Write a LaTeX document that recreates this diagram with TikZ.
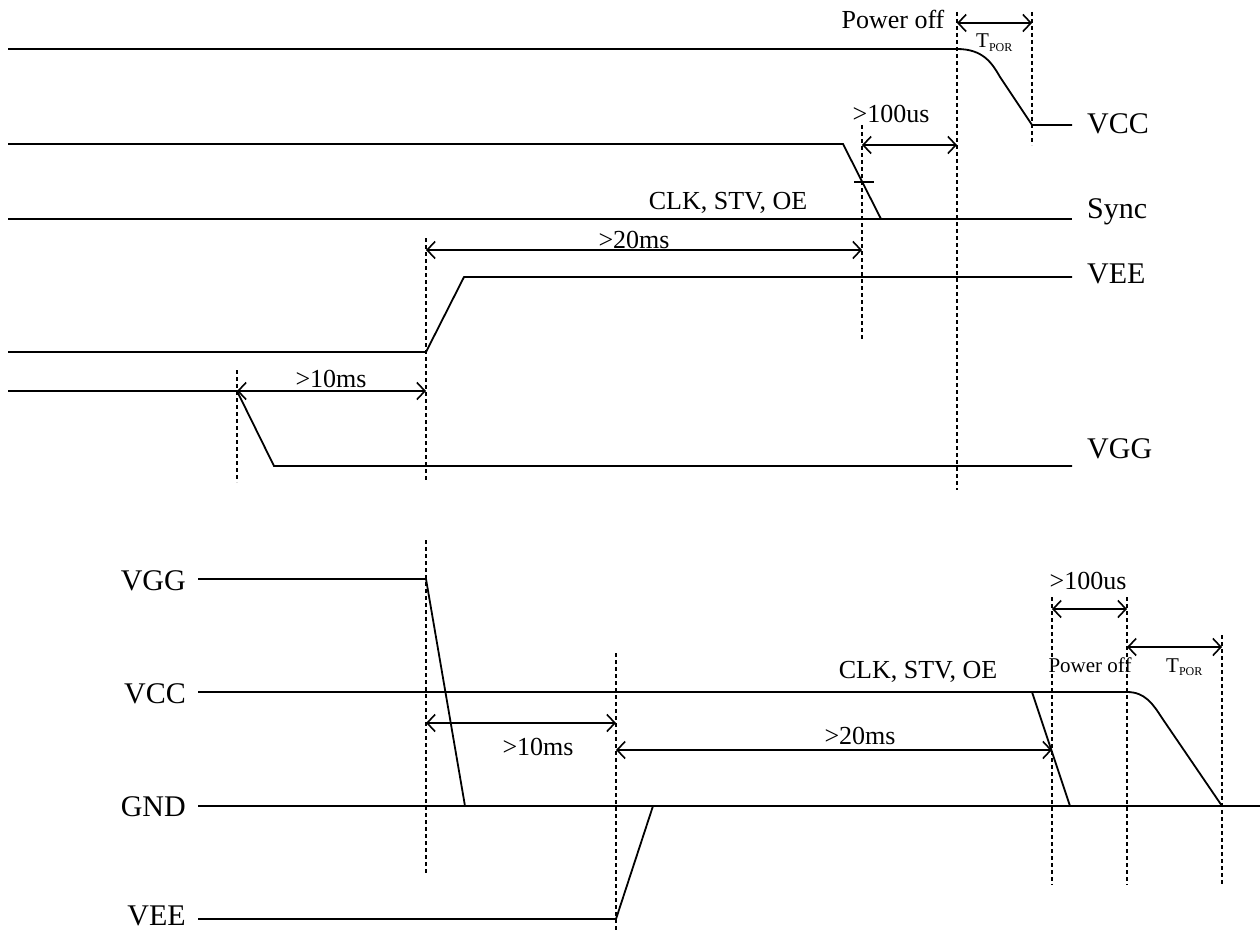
\documentclass[tikz,border=0pt]{standalone}
\usepackage{fontspec}
\setmainfont{Liberation Serif}
\usetikzlibrary{arrows.meta}
\begin{document}
\begin{tikzpicture}[x=1pt,y=-1pt,
  sig/.style={line width=1.8pt,line join=miter},
  guide/.style={line width=1.4pt,dash pattern=on 4pt off 3pt},
  dim/.style={line width=1.8pt,{Straight Barb[length=8pt,width=17pt,line width=1.6pt]}-{Straight Barb[length=8pt,width=17pt,line width=1.6pt]}},
  lbl/.style={inner sep=0pt,font=\fontsize{30}{32}\selectfont},
  ann/.style={inner sep=0pt,font=\fontsize{26}{28}\selectfont},
  sml/.style={inner sep=0pt,font=\fontsize{21}{23}\selectfont}]
\useasboundingbox (0,0) rectangle (1260,931);
\newcommand{\tpor}{T\raisebox{-0.35ex}{\fontsize{12}{12}\selectfont POR}}
% ---------------- top diagram ----------------
\coordinate (tvccA) at (8,49);
\coordinate (tvccB) at (957,49);
\coordinate (tvccC) at (1000,77);
\coordinate (tvccD) at (1032,125);
\coordinate (tvccE) at (1072,125);
\draw[sig] (tvccA) -- (tvccB) .. controls (983,49) and (992,63) .. (tvccC) -- (tvccD) -- (tvccE);
\coordinate (syA) at (8,144);
\coordinate (syB) at (843,144);
\coordinate (syC) at (881,219);
\coordinate (syL) at (8,219);
\coordinate (syE) at (1072,219);
\draw[sig] (syA) -- (syB) -- (syC);
\draw[sig] (syL) -- (syE);
\coordinate (tkA) at (854,182);
\coordinate (tkB) at (874,182);
\draw[sig] (tkA) -- (tkB);
\coordinate (teA) at (8,352);
\coordinate (teB) at (426,352);
\coordinate (teC) at (464,277);
\coordinate (teD) at (1072,277);
\draw[sig] (teA) -- (teB) -- (teC) -- (teD);
\coordinate (tgA) at (8,391);
\coordinate (tgB) at (237,391);
\coordinate (tgC) at (274,466);
\coordinate (tgD) at (1072,466);
\draw[sig] (tgA) -- (tgB) -- (tgC) -- (tgD);
% guides
\coordinate (g1t) at (237,370); \coordinate (g1b) at (237,482);
\coordinate (g2t) at (426,238); \coordinate (g2b) at (426,482);
\coordinate (g3t) at (862,125); \coordinate (g3b) at (862,340);
\coordinate (g4t) at (957,12);  \coordinate (g4b) at (957,490);
\coordinate (g5t) at (1032,12); \coordinate (g5b) at (1032,145);
\foreach \a/\b in {g1t/g1b,g2t/g2b,g3t/g3b,g4t/g4b,g5t/g5b} \draw[guide] (\a) -- (\b);
% dimensions
\coordinate (d1a) at (957,23);  \coordinate (d1b) at (1032,23);
\coordinate (d2a) at (862,145); \coordinate (d2b) at (957,145);
\coordinate (d3a) at (426,250); \coordinate (d3b) at (862,250);
\coordinate (d4a) at (237,391); \coordinate (d4b) at (426,391);
\draw[dim] (d1a) -- (d1b);
\draw[dim] (d2a) -- (d2b);
\draw[dim] (d3a) -- (d3b);
\draw[dim] (d4a) -- (d4b);
% texts
\node[ann,anchor=base] (tpoff) at (893,29) {Power off};
\node[sml,anchor=base west] (ttpor) at (976,48) {\tpor};
\node[ann,anchor=base] (t100) at (891,122) {>100us};
\node[ann,anchor=base] (tclk) at (728,209) {CLK, STV, OE};
\node[ann,anchor=base] (t20) at (634,248) {>20ms};
\node[ann,anchor=base] (t10) at (331,387) {>10ms};
\node[lbl,anchor=base west] (lvcc) at (1087,133) {VCC};
\node[lbl,anchor=base west] (lsync) at (1087,218) {Sync};
\node[lbl,anchor=base west] (lvee) at (1087,283) {VEE};
\node[lbl,anchor=base west] (lvgg) at (1087,458) {VGG};
% ---------------- bottom diagram ----------------
\coordinate (bgA) at (198,579);
\coordinate (bgB) at (426,579);
\coordinate (bgC) at (465,806);
\draw[sig] (bgA) -- (bgB) -- (bgC);
\coordinate (bcA) at (198,692);
\coordinate (bcB) at (1127,692);
\coordinate (bcC) at (1162,718);
\coordinate (bcD) at (1222,806);
\draw[sig] (bcA) -- (bcB) .. controls (1145,692) and (1153,704) .. (bcC) -- (bcD);
\coordinate (bkA) at (1032,692);
\coordinate (bkB) at (1070,806);
\draw[sig] (bkA) -- (bkB);
\coordinate (bnA) at (198,806);
\coordinate (bnB) at (1260,806);
\draw[sig] (bnA) -- (bnB);
\coordinate (beA) at (198,919);
\coordinate (beB) at (616,919);
\coordinate (beC) at (653,806);
\draw[sig] (beA) -- (beB) -- (beC);
% guides
\coordinate (h1t) at (426,540);  \coordinate (h1b) at (426,875);
\coordinate (h2t) at (616,653);  \coordinate (h2b) at (616,931);
\coordinate (h3t) at (1052,597); \coordinate (h3b) at (1052,885);
\coordinate (h4t) at (1127,597); \coordinate (h4b) at (1127,885);
\coordinate (h5t) at (1222,635); \coordinate (h5b) at (1222,885);
\foreach \a/\b in {h1t/h1b,h2t/h2b,h3t/h3b,h4t/h4b,h5t/h5b} \draw[guide] (\a) -- (\b);
% dimensions
\coordinate (e1a) at (1052,609); \coordinate (e1b) at (1127,609);
\coordinate (e2a) at (1127,647); \coordinate (e2b) at (1222,647);
\coordinate (e3a) at (426,723);  \coordinate (e3b) at (616,723);
\coordinate (e4a) at (616,750);  \coordinate (e4b) at (1052,750);
\draw[dim] (e1a) -- (e1b);
\draw[dim] (e2a) -- (e2b);
\draw[dim] (e3a) -- (e3b);
\draw[dim] (e4a) -- (e4b);
% texts
\node[ann,anchor=base] (b100) at (1088,589) {>100us};
\node[sml,anchor=base] (bpoff) at (1090,672) {Power off};
\node[sml,anchor=base west] (btpor) at (1166,672) {\tpor};
\node[ann,anchor=base] (bclk) at (918,678) {CLK, STV, OE};
\node[ann,anchor=base] (b20) at (860,744) {>20ms};
\node[ann,anchor=base] (b10) at (538,755) {>10ms};
\node[lbl,anchor=base east] (rvgg) at (186,590) {VGG};
\node[lbl,anchor=base east] (rvcc) at (186,703) {VCC};
\node[lbl,anchor=base east] (rgnd) at (186,816) {GND};
\node[lbl,anchor=base east] (rvee) at (186,925) {VEE};
\end{tikzpicture}
\end{document}
